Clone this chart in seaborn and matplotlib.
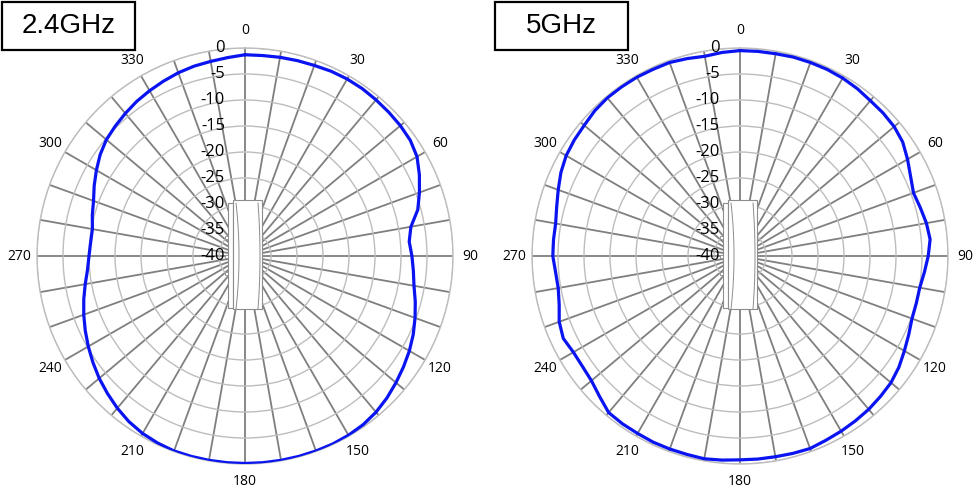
import matplotlib
matplotlib.use('Agg')
import matplotlib.pyplot as plt
from matplotlib.patches import Rectangle
from matplotlib.transforms import offset_copy
import numpy as np
import pandas as pd
import seaborn as sns

# angles in degrees, gain in dB (5 degree steps)
angles = list(range(0, 360, 5))

gain_24 = [-1.3, -1.3, -1.2, -1.1, -1.0, -0.8, -0.7, -0.7, -0.8, -0.9, -1.0, -1.2,
           -1.8, -3.0, -4.3, -5.6, -7.6, -8.3, -7.9, -7.5, -7.0, -6.1, -5.2, -4.3,
           -3.5, -2.8, -2.1, -1.4, -0.8, -0.4, -0.2, -0.1, -0.1, -0.1, -0.1, -0.1,
           -0.1, -0.1, -0.1, -0.1, -0.1, -0.3, -0.6, -1.1, -1.8, -2.6, -3.4, -4.3,
           -5.2, -6.1, -7.0, -7.9, -8.8, -9.6, -10.0, -10.2, -10.2, -9.6, -9.0, -8.0,
           -7.0, -6.0, -5.2, -4.7, -4.2, -3.7, -3.3, -2.9, -2.5, -2.2, -2.0, -1.7]

gain_5 = [-0.5, -0.5, -0.5, -0.4, -0.4, -0.4, -0.5, -0.7, -1.0, -1.1, -1.3, -1.8,
          -2.8, -3.8, -4.5, -4.1, -3.6, -3.3, -3.8, -4.4, -4.9, -4.9, -4.8, -4.2,
          -3.5, -2.7, -2.1, -1.8, -1.5, -1.3, -1.1, -0.9, -0.6, -0.7, -0.8, -0.8,
          -0.8, -0.6, -0.4, -0.5, -0.5, -0.5, -0.6, -0.6, -0.7, -1.8, -2.7, -3.0,
          -3.0, -2.5, -3.0, -4.0, -4.5, -4.4, -4.0, -4.0, -4.0, -3.5, -2.8, -2.0,
          -1.4, -1.1, -0.9, -0.5, -0.3, -0.3, -0.3, -0.4, -0.4, -0.7, -1.0, -0.7]

titles = ['2.4GHz', '5GHz']
r_ticks = list(range(-40, 1, 5))
spoke_angles = list(range(0, 360, 10))

W, H = 976, 490
R = 208
CY = 256
centers = [245, 740]
title_x = [2, 495]

sns.set_style('white')
plt.rcParams['font.family'] = ['Open Sans', 'DejaVu Sans']
plt.rcParams['text.color'] = 'black'
plt.rcParams['xtick.color'] = 'black'

fig = plt.figure(figsize=(W / 100, H / 100), dpi=100)


def draw_antenna(ax):
    # small device sketch in the middle of the polar plot (pixel offsets -> axes fraction)
    def px(dx, dy):
        return 0.5 + dx / (2 * R), 0.5 + dy / (2 * R)
    ec = '#8c8c8c'
    x0, y0 = px(-17, -52)
    x1, y1 = px(-12, 53)
    ax.add_patch(Rectangle((x0, y0), x1 - x0, y1 - y0, transform=ax.transAxes,
                           fc='white', ec=ec, lw=0.8, zorder=6, clip_on=False))
    x0, y0 = px(-12, -53)
    x1, y1 = px(17, 56)
    ax.add_patch(Rectangle((x0, y0), x1 - x0, y1 - y0, transform=ax.transAxes,
                           fc='white', ec=ec, lw=0.8, zorder=6, clip_on=False))
    t = np.linspace(-1, 1, 30)
    for xoff, bow in [(-9, 3), (13, 2)]:
        xs, ys = px(xoff + bow * (1 - t ** 2), 53 * t)
        ax.plot(xs, ys, transform=ax.transAxes, color=ec, lw=0.7, zorder=7, clip_on=False)
    for dy in [19, 0, -17]:
        xa, ya = px(-20, dy - 1.5)
        xb, yb = px(-17, dy + 1.5)
        ax.add_patch(Rectangle((xa, ya), xb - xa, yb - ya, transform=ax.transAxes,
                               fc='white', ec=ec, lw=0.6, zorder=6, clip_on=False))


for cx, gains, title, tx in zip(centers, [gain_24, gain_5], titles, title_x):
    ax = fig.add_axes([(cx - R) / W, (H - CY - R) / H, 2 * R / W, 2 * R / H], projection='polar')
    ax.set_theta_zero_location('N')
    ax.set_theta_direction(-1)

    df = pd.DataFrame({'theta': np.deg2rad(angles + [360]), 'gain': gains + [gains[0]]})
    sns.lineplot(data=df, x='theta', y='gain', ax=ax, sort=False, estimator=None,
                 color='#0a14f0', lw=2.3, zorder=8)
    ax.set_xlabel('')
    ax.set_ylabel('')

    ax.set_ylim(-40, 0)
    ax.set_yticks(r_ticks)
    ax.set_yticklabels([])
    ax.set_xticks(np.deg2rad(spoke_angles))
    ax.set_xticklabels([str(a) if a % 30 == 0 else '' for a in spoke_angles], fontsize=10)
    ax.tick_params(axis='x', pad=2)
    ax.xaxis.grid(True, color='#7f7f7f', lw=1.3)
    ax.yaxis.grid(True, color='#bdbdbd', lw=1.0)
    ax.spines['polar'].set_color('#bdbdbd')
    ax.spines['polar'].set_linewidth(1.0)

    lab_tr = offset_copy(ax.transData, fig=fig, x=-20, y=0, units='dots')
    for v in r_ticks:
        ax.text(0, v, str(v), transform=lab_tr, ha='right', va='center', fontsize=12, zorder=5)

    draw_antenna(ax)

    fig.patches.append(Rectangle((tx / W, (H - 50) / H), 133 / W, 48 / H, transform=fig.transFigure,
                                 fc='white', ec='black', lw=1.6))
    fig.text((tx + 66.5) / W, (H - 26) / H, title, ha='center', va='center', fontsize=20,
             color='black', family=['Liberation Sans', 'DejaVu Sans'])

fig.savefig('out.png', dpi=100, facecolor='white')
